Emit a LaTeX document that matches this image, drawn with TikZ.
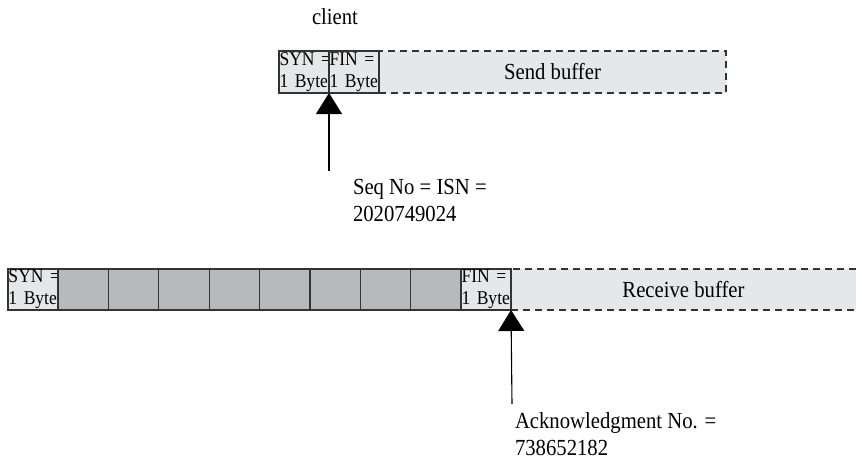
\documentclass[tikz,border=0pt]{standalone}
\usepackage{fontspec}
\setmainfont{Liberation Serif}[FakeStretch=0.9]
\usetikzlibrary{arrows.meta}
\definecolor{linec}{HTML}{333333}
\definecolor{lightfill}{HTML}{E6E7E8}
\definecolor{cellfill}{HTML}{B8B9BB}
\begin{document}
\begin{tikzpicture}[x=1pt,y=-1pt,
  every node/.style={inner sep=0pt, outer sep=0pt},
  bytebox/.style={draw=linec, fill=lightfill, line width=1.1pt, text width=49pt, inner sep=0.5pt,
    align=left, anchor=north west, font=\fontsize{19.5}{22}\selectfont},
  cell/.style={draw=linec, fill=cellfill, line width=1.1pt, minimum width=50.4pt, minimum height=41pt, anchor=north west},
  buf/.style={draw=linec, fill=lightfill, line width=1.1pt, dash pattern=on 7pt off 5pt, anchor=north west,
    font=\fontsize{23}{25}\selectfont},
  lab/.style={align=left, anchor=north west, font=\fontsize{23}{27.5}\selectfont},
  arr/.style={draw=linec, line width=1.1pt, -{Triangle[width=26pt,length=21pt]}, color=black}
]
\useasboundingbox (0,0) rectangle (856,460);

% top row
\node[lab, anchor=base west] (client) at (312,25) {client};
\node[buf, minimum width=347pt, minimum height=42pt] (send) at (379,51) {Send buffer};
\node[bytebox, minimum height=42pt] (syn1) at (279,51) {\mbox{SYN =}\\\mbox{1 Byte}};
\node[bytebox, minimum height=42pt] (fin1) at (329,51) {\mbox{FIN =}\\\mbox{1 Byte}};

\coordinate (a1) at (329,171);
\draw[arr] (a1) -- (syn1.south east);
\node[lab] (seq) at (353,178.8) {Seq No = ISN =\\2020749024};

% bottom row
\node[buf, minimum width=350pt, minimum height=41pt] (recv) at (511,269) {\hspace*{-5pt}Receive buffer};
\node[bytebox, minimum height=41pt] (syn2) at (8,269) {\mbox{SYN =}\\\mbox{1 Byte}};
\foreach \i in {0,...,7} {
  \node[cell] (c\i) at ({58+50.4*\i},269) {};
}
\node[bytebox, minimum height=41pt] (fin2) at (461,269) {\mbox{FIN =}\\\mbox{1 Byte}};

\coordinate (a2) at (512,404);
\draw[arr] (a2) -- (fin2.south east);
\node[lab] (ack) at (515,412.3) {Acknowledgment No. =\\738652182};
\end{tikzpicture}
\end{document}
